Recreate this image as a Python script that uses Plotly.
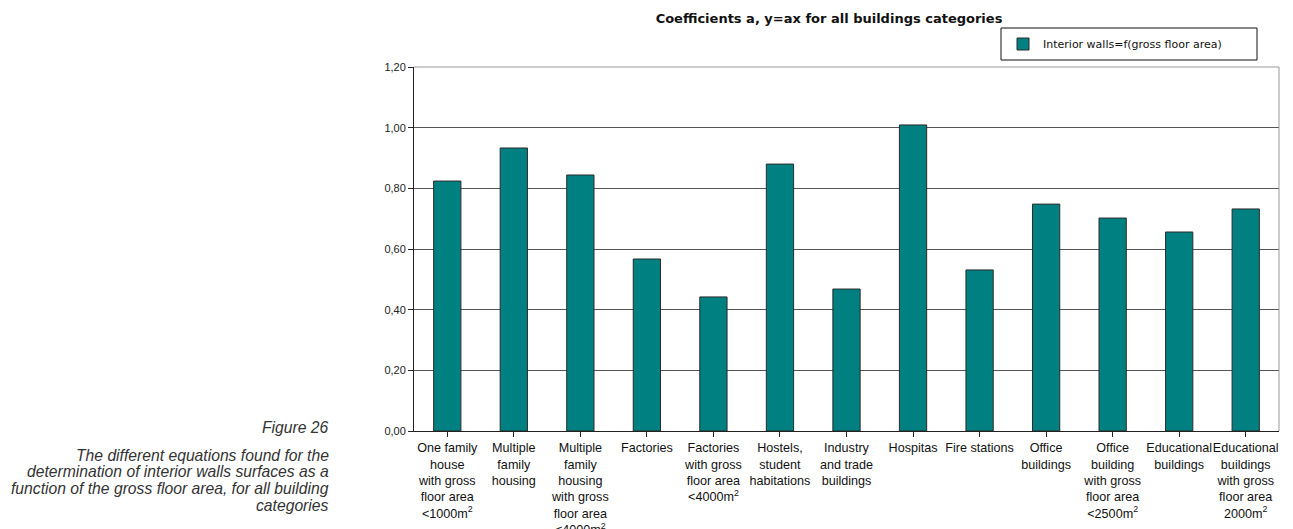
import plotly.graph_objects as go

categories = [
    "One family<br>house<br>with gross<br>floor area<br>&lt;1000m<sup>2</sup>",
    "Multiple<br>family<br>housing",
    "Multiple<br>family<br>housing<br>with gross<br>floor area<br>&lt;4000m<sup>2</sup>",
    "Factories",
    "Factories<br>with gross<br>floor area<br>&lt;4000m<sup>2</sup>",
    "Hostels,<br>student<br>habitations",
    "Industry<br>and trade<br>buildings",
    "Hospitas",
    "Fire stations",
    "Office<br>buildings",
    "Office<br>building<br>with gross<br>floor area<br>&lt;2500m<sup>2</sup>",
    "Educational<br>buildings",
    "Educational<br>buildings<br>with gross<br>floor area<br>2000m<sup>2</sup>",
]
values = [0.824, 0.933, 0.844, 0.567, 0.442, 0.880, 0.468, 1.009, 0.531, 0.748, 0.702, 0.656, 0.732]
series_name = "Interior walls=f(gross floor area)"
ytick_vals = [0, 0.2, 0.4, 0.6, 0.8, 1.0, 1.2]
ytick_text = ["0,00", "0,20", "0,40", "0,60", "0,80", "1,00", "1,20"]
title_text = "Coefficients a, y=ax for all buildings categories"
caption_head = "Figure 26"
caption_lines = [
    "The different equations found for the",
    "determination of interior walls surfaces as a",
    "function of the gross floor area, for all building",
    "categories",
]

# page has an 8px body margin: figure starts at (8, 8)
OFF = 8
PAGE_W, PAGE_H = 1293, 529
W, H = PAGE_W - OFF, PAGE_H - OFF
PL, PR, PT, PB = 414, 1279, 67, 431   # plot area in page pixels
L, R, T, B = PL - OFF, PAGE_W - PR, PT - OFF, PAGE_H - PB
pw = PR - PL
ph = PB - PT

def px_x(x):
    return (x - PL) / pw

def px_y(y):
    return (PB - y) / ph

fig = go.Figure()
fig.add_trace(go.Bar(
    x=list(range(len(categories))), y=values, name=series_name,
    marker=dict(color="#008080", line=dict(color="#2b2b2b", width=1)),
    showlegend=True,
))

fig.update_layout(
    width=W, height=H,
    margin=dict(l=L, r=R, t=T, b=B, autoexpand=False),
    paper_bgcolor="white", plot_bgcolor="white",
    font=dict(family="Liberation Sans, Arial, sans-serif", color="#111111"),
    bargap=0.59,
    title=dict(text="<b>" + title_text + "</b>", xref="paper", x=px_x(829), xanchor="center",
               yref="container", y=1 - (18 - OFF) / H, yanchor="middle",
               font=dict(family="DejaVu Sans, sans-serif", size=13, color="#111111")),
    showlegend=True,
    legend=dict(x=px_x(1003), xanchor="left", y=px_y(44), yanchor="middle",
                bgcolor="rgba(0,0,0,0)", borderwidth=0,
                font=dict(family="DejaVu Sans, sans-serif", size=11, color="#111111"),
                itemwidth=30, tracegroupgap=0),
)

fig.update_xaxes(
    tickmode="array", tickvals=list(range(len(categories))), ticktext=categories,
    tickangle=0, range=[-0.5, len(categories) - 0.5],
    showline=True, linecolor="#222222", linewidth=1, mirror=False,
    ticks="outside", ticklen=5, tickcolor="#222222", tickson="boundaries",
    tickfont=dict(size=12.6, color="#111111"), showgrid=False,
)
fig.update_yaxes(
    range=[0, 1.2], tickmode="array", tickvals=ytick_vals, ticktext=ytick_text,
    showline=True, linecolor="#222222", linewidth=1,
    ticks="outside", ticklen=5, tickcolor="#222222",
    tickfont=dict(size=11, color="#222222"),
    showgrid=True, gridcolor="#555555", gridwidth=1, zeroline=False,
)

# plot frame (top and right, grey)
fig.add_shape(type="line", xref="paper", yref="paper", x0=0, x1=1, y0=1, y1=1,
              line=dict(color="#999999", width=1))
fig.add_shape(type="line", xref="paper", yref="paper", x0=1, x1=1, y0=0, y1=1,
              line=dict(color="#999999", width=1))
# legend box
fig.add_shape(type="rect", xref="paper", yref="paper",
              x0=px_x(1001), x1=px_x(1257), y0=px_y(60), y1=px_y(28),
              line=dict(color="#111111", width=1), fillcolor="rgba(0,0,0,0)")

fig.add_annotation(text="<i>" + caption_head + "</i>", xref="paper", yref="paper",
                   x=px_x(331), xanchor="right", y=px_y(427), yanchor="middle",
                   showarrow=False, align="right", font=dict(size=15.7, color="#333333"))
for i, line in enumerate(caption_lines):
    fig.add_annotation(text="<i>" + line + "</i>", xref="paper", yref="paper",
                       x=px_x(331), xanchor="right", y=px_y(455 + i * 16.7), yanchor="middle",
                       showarrow=False, align="right", font=dict(size=15.7, color="#333333"))

fig.write_html("out.html")
